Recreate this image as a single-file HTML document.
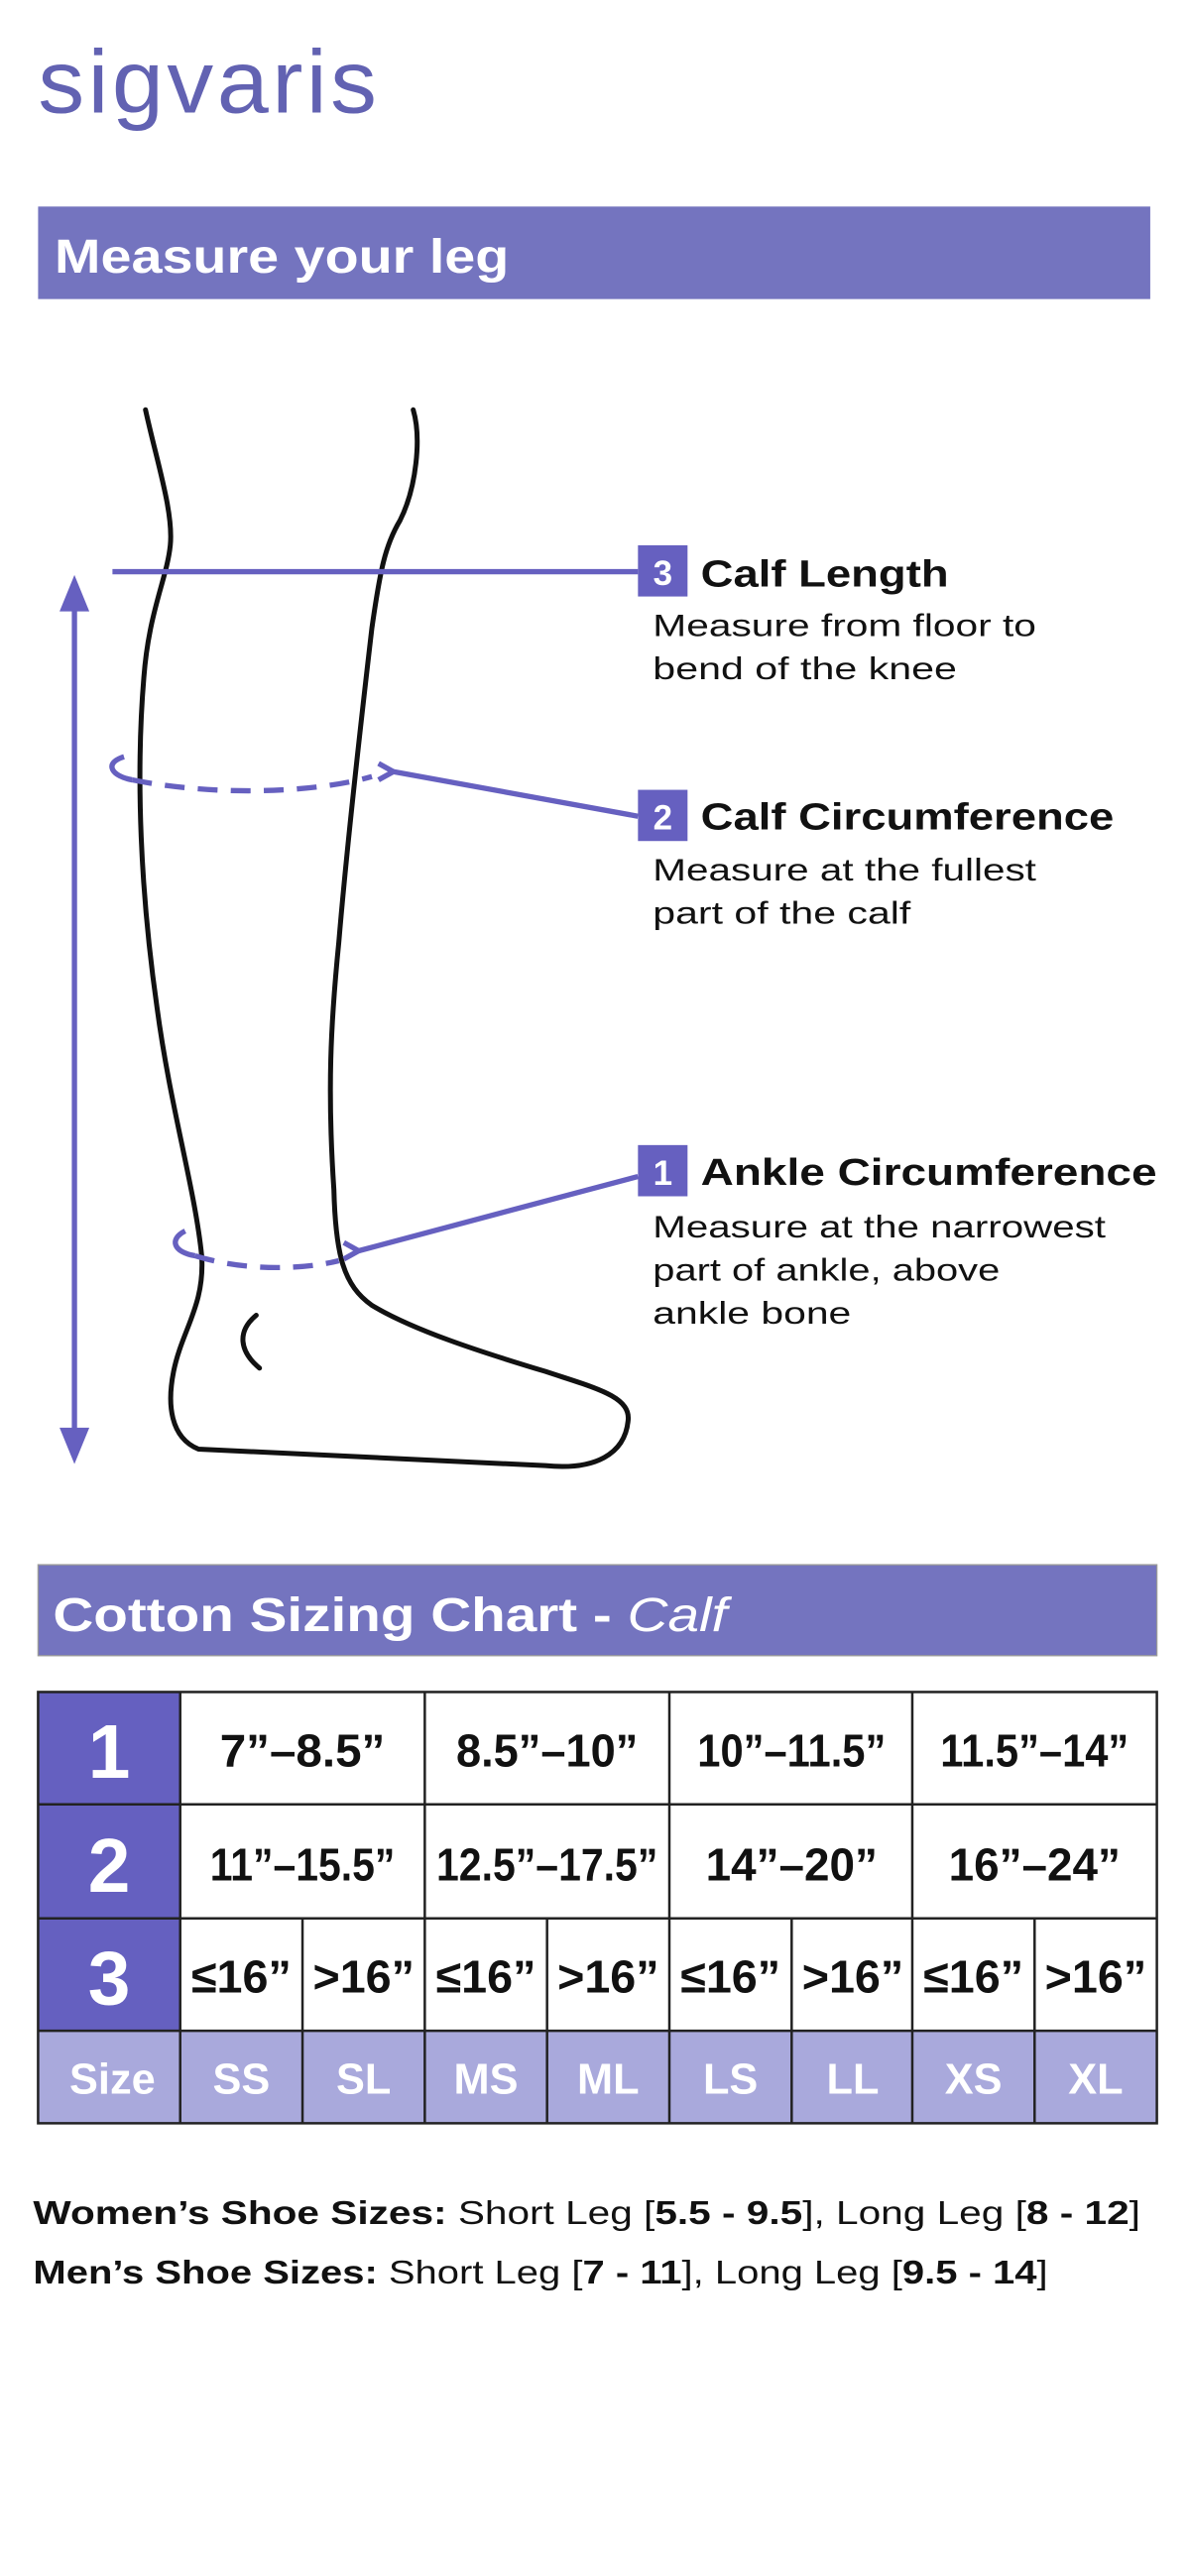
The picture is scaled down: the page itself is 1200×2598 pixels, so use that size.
<!DOCTYPE html>
<html><head><meta charset="utf-8"><style>
html,body{margin:0;padding:0;background:#fff;}
svg{display:block;}
text{font-family:"Liberation Sans",sans-serif;}
</style></head><body>
<svg width="1200" height="2598" viewBox="0 0 720 1559" xmlns="http://www.w3.org/2000/svg">
<rect width="720" height="1559" fill="#fff"/>
<text x="23" y="68" font-size="54" fill="#6262b2" textLength="207" lengthAdjust="spacingAndGlyphs" letter-spacing="2">sigvaris</text>

<rect x="23" y="125" width="673" height="56" fill="#7474bf"/>
<text x="33" y="165" font-size="29" font-weight="bold" fill="#fff" textLength="275" lengthAdjust="spacingAndGlyphs">Measure your leg</text>

<!-- leg outline -->
<g fill="none" stroke="#111" stroke-width="3" stroke-linecap="round" stroke-linejoin="round">
<path d="M88,248 C95,280 105,310 103,330 C101,350 90,370 87,410 C82,470 85,540 95,610 C103,670 118,720 122,760 C124,790 110,805 105,830 C101,850 103,870 120,877 L330,887 C360,890 378,880 380,860 C382,845 360,840 330,830 C290,818 250,805 225,790 C208,778 203,760 202,720 C198,660 200,620 205,570 C210,510 218,440 225,380 C230,345 233,330 242,315 C252,295 255,265 250,248"/>
<path d="M155,796 C143,806 145,818 157,828"/>
</g>

<!-- purple measurement marks -->
<g stroke="#6660c0" fill="none" stroke-width="3.2">
<line x1="45" y1="362" x2="45" y2="872"/>
<line x1="68" y1="346" x2="386" y2="346"/>
<path d="M75,458 C62,462 68,470 80,472"/>
<path d="M80,472 C130,482 190,480 225,470" stroke-dasharray="12,8"/>
<path d="M229,462 L238,467 L229,472"/>
<line x1="238" y1="467" x2="386" y2="494"/>
<path d="M112,745 C102,750 105,758 118,760"/>
<path d="M118,760 C150,770 185,768 205,763" stroke-dasharray="12,8"/>
<path d="M208,752 L217,757 L208,762"/>
<line x1="217" y1="757" x2="386" y2="712"/>
</g>
<polygon points="45,348 36,370 54,370" fill="#6660c0"/>
<polygon points="45,886 36,864 54,864" fill="#6660c0"/>

<!-- labels -->
<g font-size="19" fill="#111">
<rect x="386" y="330" width="30" height="31" fill="#6660c0"/>
<text x="401" y="354" font-size="21" font-weight="bold" fill="#fff" text-anchor="middle">3</text>
<text x="424" y="355" font-size="23" font-weight="bold" textLength="150" lengthAdjust="spacingAndGlyphs">Calf Length</text>
<text x="395" y="385" textLength="232" lengthAdjust="spacingAndGlyphs">Measure from floor to</text>
<text x="395" y="411" textLength="184" lengthAdjust="spacingAndGlyphs">bend of the knee</text>

<rect x="386" y="478" width="30" height="31" fill="#6660c0"/>
<text x="401" y="502" font-size="21" font-weight="bold" fill="#fff" text-anchor="middle">2</text>
<text x="424" y="502" font-size="23" font-weight="bold" textLength="250" lengthAdjust="spacingAndGlyphs">Calf Circumference</text>
<text x="395" y="533" textLength="232" lengthAdjust="spacingAndGlyphs">Measure at the fullest</text>
<text x="395" y="559" textLength="156" lengthAdjust="spacingAndGlyphs">part of the calf</text>

<rect x="386" y="693" width="30" height="31" fill="#6660c0"/>
<text x="401" y="717" font-size="21" font-weight="bold" fill="#fff" text-anchor="middle">1</text>
<text x="424" y="717" font-size="23" font-weight="bold" textLength="276" lengthAdjust="spacingAndGlyphs">Ankle Circumference</text>
<text x="395" y="749" textLength="274" lengthAdjust="spacingAndGlyphs">Measure at the narrowest</text>
<text x="395" y="775" textLength="210" lengthAdjust="spacingAndGlyphs">part of ankle, above</text>
<text x="395" y="801" textLength="120" lengthAdjust="spacingAndGlyphs">ankle bone</text>
</g>

<!-- chart header -->
<rect x="23" y="947" width="677" height="55" fill="#7474bf" stroke="#999" stroke-width="0.8"/>
<text x="32" y="987" font-size="29" font-weight="bold" fill="#fff" textLength="408" lengthAdjust="spacingAndGlyphs">Cotton Sizing Chart - <tspan font-style="italic" font-weight="normal">Calf</tspan></text>

<!-- table -->
<rect x="23" y="1024" width="86" height="205" fill="#6560c0"/>
<rect x="23" y="1229" width="677" height="56" fill="#a9a9dc"/>
<g stroke="#222" stroke-width="1.5" fill="none">
<rect x="23" y="1024" width="677" height="261"/>
<line x1="23" y1="1092" x2="700" y2="1092"/>
<line x1="23" y1="1161" x2="700" y2="1161"/>
<line x1="23" y1="1229" x2="700" y2="1229"/>
<line x1="109" y1="1024" x2="109" y2="1285"/>
<line x1="257" y1="1024" x2="257" y2="1285"/>
<line x1="405" y1="1024" x2="405" y2="1285"/>
<line x1="552" y1="1024" x2="552" y2="1285"/>
<line x1="183" y1="1161" x2="183" y2="1285"/>
<line x1="331" y1="1161" x2="331" y2="1285"/>
<line x1="479" y1="1161" x2="479" y2="1285"/>
<line x1="626" y1="1161" x2="626" y2="1285"/>
</g>
<g font-weight="bold" text-anchor="middle">
<text x="66" y="1076" font-size="46" fill="#fff">1</text>
<text x="66" y="1145" font-size="46" fill="#fff">2</text>
<text x="66" y="1213" font-size="46" fill="#fff">3</text>
<g font-size="28" fill="#111">
<text x="183" y="1069" textLength="100" lengthAdjust="spacingAndGlyphs">7”–8.5”</text>
<text x="331" y="1069" textLength="110" lengthAdjust="spacingAndGlyphs">8.5”–10”</text>
<text x="479" y="1069" textLength="114" lengthAdjust="spacingAndGlyphs">10”–11.5”</text>
<text x="626" y="1069" textLength="114" lengthAdjust="spacingAndGlyphs">11.5”–14”</text>
<text x="183" y="1138" textLength="112" lengthAdjust="spacingAndGlyphs">11”–15.5”</text>
<text x="331" y="1138" textLength="134" lengthAdjust="spacingAndGlyphs">12.5”–17.5”</text>
<text x="479" y="1138" textLength="104" lengthAdjust="spacingAndGlyphs">14”–20”</text>
<text x="626" y="1138" textLength="104" lengthAdjust="spacingAndGlyphs">16”–24”</text>
<text x="146" y="1206">≤16”</text>
<text x="220" y="1206">&gt;16”</text>
<text x="294" y="1206">≤16”</text>
<text x="368" y="1206">&gt;16”</text>
<text x="442" y="1206">≤16”</text>
<text x="516" y="1206">&gt;16”</text>
<text x="589" y="1206">≤16”</text>
<text x="663" y="1206">&gt;16”</text>
</g>
<g font-size="26" fill="#fff">
<text x="68" y="1267">Size</text>
<text x="146" y="1267">SS</text>
<text x="220" y="1267">SL</text>
<text x="294" y="1267">MS</text>
<text x="368" y="1267">ML</text>
<text x="442" y="1267">LS</text>
<text x="516" y="1267">LL</text>
<text x="589" y="1267">XS</text>
<text x="663" y="1267">XL</text>
</g>
</g>

<g font-size="20" fill="#111">
<text x="20" y="1346" textLength="670" lengthAdjust="spacingAndGlyphs"><tspan font-weight="bold">Women’s Shoe Sizes:</tspan> Short Leg [<tspan font-weight="bold">5.5 - 9.5</tspan>], Long Leg [<tspan font-weight="bold">8 - 12</tspan>]</text>
<text x="20" y="1382" textLength="614" lengthAdjust="spacingAndGlyphs"><tspan font-weight="bold">Men’s Shoe Sizes:</tspan> Short Leg [<tspan font-weight="bold">7 - 11</tspan>], Long Leg [<tspan font-weight="bold">9.5 - 14</tspan>]</text>
</g>
</svg>
</body></html>
